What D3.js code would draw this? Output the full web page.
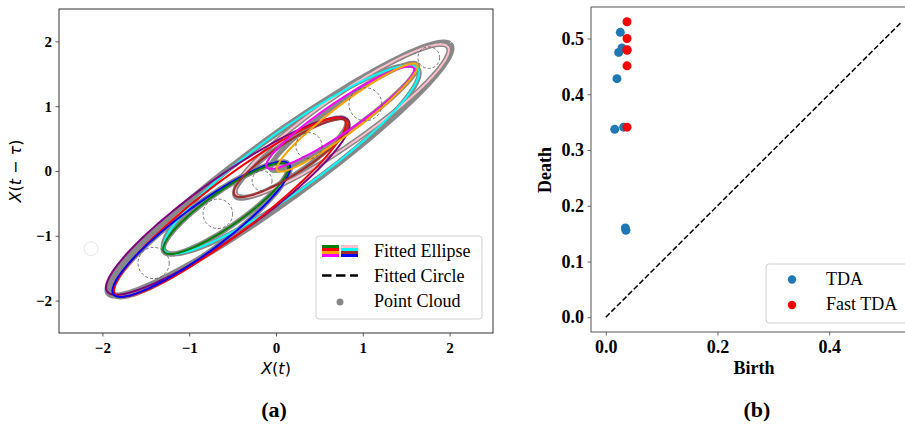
<!DOCTYPE html>
<html>
<head>
<meta charset="utf-8">
<script src="https://cdn.jsdelivr.net/npm/d3@7"></script>
<style>
  body { margin: 0; background: #fff; }
  svg { display: block; }
</style>
</head>
<body>
<div id="chart"></div>
<script>
// ---- data: panel (a) ----
// loops are given by lower tip, upper tip and half width (data units)
var cloudLoops = [
    [-1.92, -1.90, 2.00, 1.96, 0.42],
    [-1.27, -1.25, 1.62, 1.60, 0.42],
    [-1.86, -1.92, 0.14, 0.12, 0.31],
    [-1.28, -1.26, 0.12, 0.10, 0.24],
    [-0.46, -0.40, 0.80, 0.80, 0.22],
    [-0.45, -0.38, 1.97, 1.93, 0.33],
    [-0.05, 0.02, 1.62, 1.65, 0.20]
];
var ellipseNames = ["pink", "cyan", "purple", "red", "blue", "green", "brown", "magenta", "orange"];
var ellipseColors = ["#ffc0cb", "#00ffff", "#800080", "#ff0000", "#0000ff", "#008000", "#a52a2a", "#ff00ff", "#ffa500"];
var ellipseTips = [
    [-0.45, -0.38, 1.97, 1.93],
    [-1.27, -1.25, 1.62, 1.60],
    [-1.93, -1.88, 0.82, 0.80],
    [-1.84, -1.92, 0.78, 0.80],
    [-1.86, -1.92, 0.14, 0.12],
    [-1.28, -1.26, 0.12, 0.10],
    [-0.47, -0.38, 0.82, 0.78],
    [-0.10, 0.05, 1.58, 1.60],
    [0.02, 0.00, 1.62, 1.65]
];
var ellipseWidths = [0.33, 0.41, 0.40, 0.36, 0.31, 0.24, 0.22, 0.21, 0.19];
// fitted circles: x, y, radius
var circleX = [-1.41, -0.67, -0.16, 0.38, 1.03, 1.76];
var circleY = [-1.42, -0.66, -0.15, 0.39, 1.03, 1.75];
var circleR = [0.18, 0.17, 0.115, 0.15, 0.19, 0.125];
var faintCircle = [-2.13, -1.20, 0.08];
var ticksA = [-2, -1, 0, 1, 2];
// legend handle colours (two columns)
var legendLeft = ["#008000", "#ff0000", "#ffa500", "#ff00ff"];
var legendRight = ["#ffc0cb", "#00ffff", "#a52a2a", "#0000ff"];

// ---- data: panel (b) ----
var tdaBirth = [0.026, 0.029, 0.023, 0.020, 0.016, 0.032, 0.035, 0.036];
var tdaDeath = [0.511, 0.483, 0.475, 0.428, 0.337, 0.341, 0.160, 0.156];
var fastBirth = [0.038, 0.038, 0.038, 0.038, 0.038, 0.038];
var fastDeath = [0.530, 0.500, 0.480, 0.479, 0.451, 0.341];
var diagMax = 0.53;
var ticksBx = [0.0, 0.2, 0.4];
var ticksBy = [0.0, 0.1, 0.2, 0.3, 0.4, 0.5];

var serif = "'Liberation Serif', 'Times New Roman', serif";
var mathFont = "'DejaVu Sans', sans-serif";

var svg = d3.select("#chart").append("svg")
    .attr("width", 905)
    .attr("height", 427);

svg.append("rect").attr("width", 905).attr("height", 427).attr("fill", "#fff");

// ================= panel (a) =================
var xA = d3.scaleLinear().domain([-2.5, 2.5]).range([59, 493]);
var yA = d3.scaleLinear().domain([-2.5, 2.5]).range([333, 9]);

// ellipse outline in data space, then through the scales
function ellipsePoints(x1, y1, x2, y2, b) {
    var cx = (x1 + x2) / 2, cy = (y1 + y2) / 2;
    var dx = x2 - x1, dy = y2 - y1;
    var L = Math.sqrt(dx * dx + dy * dy);
    var ux = dx / L, uy = dy / L;
    var a = L / 2;
    return d3.range(0, 361, 3).map(function (deg) {
        var t = deg * Math.PI / 180;
        return [cx + a * Math.cos(t) * ux - b * Math.sin(t) * uy,
                cy + a * Math.cos(t) * uy + b * Math.sin(t) * ux];
    });
}
var lineA = d3.line().x(function (d) { return xA(d[0]); }).y(function (d) { return yA(d[1]); });

var gA = svg.append("g");

// point cloud
gA.selectAll(".cloud").data(cloudLoops).enter().append("path")
    .attr("class", "cloud")
    .attr("d", function (d) { return lineA(ellipsePoints(d[0], d[1], d[2], d[3], d[4])); })
    .attr("fill", "none")
    .attr("stroke", "#888")
    .attr("stroke-width", function (d, i) { return i == 0 ? 6 : 5; });

// fitted ellipses
gA.selectAll(".fit").data(ellipseTips).enter().append("path")
    .attr("class", "fit")
    .attr("d", function (d, i) { return lineA(ellipsePoints(d[0], d[1], d[2], d[3], ellipseWidths[i])); })
    .attr("fill", "none")
    .attr("stroke", function (d, i) { return ellipseColors[i]; })
    .attr("stroke-width", 2);

// fitted circles
gA.selectAll(".circ").data(circleX).enter().append("circle")
    .attr("cx", function (d) { return xA(d); })
    .attr("cy", function (d, i) { return yA(circleY[i]); })
    .attr("r", function (d, i) { return xA(circleR[i]) - xA(0); })
    .attr("fill", "none")
    .attr("stroke", "#555")
    .attr("stroke-width", 0.8)
    .attr("stroke-dasharray", "3,2");

gA.append("circle")
    .attr("cx", xA(faintCircle[0]))
    .attr("cy", yA(faintCircle[1]))
    .attr("r", xA(faintCircle[2]) - xA(0))
    .attr("fill", "none")
    .attr("stroke", "#e6e6e6")
    .attr("stroke-width", 1);

// axes
var axA_x = svg.append("g").attr("transform", "translate(0,333)")
    .call(d3.axisBottom(xA).tickValues(ticksA).tickSize(3.5).tickPadding(5.8).tickFormat(d3.format("d")));
var axA_y = svg.append("g").attr("transform", "translate(59,0)")
    .call(d3.axisLeft(yA).tickValues(ticksA).tickSize(3.5).tickPadding(3.5).tickFormat(d3.format("d")));

[axA_x, axA_y].forEach(function (ax) {
    ax.select(".domain").remove();
    ax.selectAll(".tick line").attr("stroke", "#333").attr("stroke-width", 0.8);
    ax.selectAll("text").attr("font-family", serif).attr("font-weight", "bold")
        .attr("font-size", 15).attr("fill", "#000");
});

svg.append("rect")
    .attr("x", 59).attr("y", 9)
    .attr("width", 434).attr("height", 324)
    .attr("fill", "none").attr("stroke", "#333").attr("stroke-width", 1);

// axis labels
var xl = svg.append("text").attr("x", 276).attr("y", 374)
    .attr("text-anchor", "middle").attr("font-family", mathFont).attr("font-size", 16);
xl.append("tspan").attr("font-style", "italic").text("X");
xl.append("tspan").text("(");
xl.append("tspan").attr("font-style", "italic").text("t");
xl.append("tspan").text(")");

var yl = svg.append("text").attr("transform", "translate(21,171) rotate(-90)")
    .attr("text-anchor", "middle").attr("font-family", mathFont).attr("font-size", 16);
yl.append("tspan").attr("font-style", "italic").text("X");
yl.append("tspan").text("(");
yl.append("tspan").attr("font-style", "italic").text("t");
yl.append("tspan").text(" \u2212 ");
yl.append("tspan").attr("font-style", "italic").text("\u03c4");
yl.append("tspan").text(")");

// legend (a)
var legA = svg.append("g");
legA.append("rect")
    .attr("x", 316).attr("y", 236).attr("width", 166).attr("height", 83).attr("rx", 3)
    .attr("fill", "#fff").attr("fill-opacity", 0.8).attr("stroke", "#d0d0d0");
legA.selectAll(".sl").data(legendLeft).enter().append("rect")
    .attr("x", 322).attr("y", function (d, i) { return 245 + i * 3; })
    .attr("width", 17).attr("height", 3).attr("fill", function (d) { return d; });
legA.selectAll(".sr").data(legendRight).enter().append("rect")
    .attr("x", 341).attr("y", function (d, i) { return 245 + i * 3; })
    .attr("width", 17).attr("height", 3).attr("fill", function (d) { return d; });
legA.append("line")
    .attr("x1", 322).attr("x2", 358).attr("y1", 275.5).attr("y2", 275.5)
    .attr("stroke", "#000").attr("stroke-width", 2.5).attr("stroke-dasharray", "9.5,4.5");
legA.append("circle").attr("cx", 340).attr("cy", 302).attr("r", 3.5).attr("fill", "#888");
legA.selectAll(".lt").data(["Fitted Ellipse", "Fitted Circle", "Point Cloud"]).enter().append("text")
    .attr("x", 374).attr("y", function (d, i) { return 257 + i * 25; })
    .attr("font-family", serif).attr("font-size", 18).attr("fill", "#000")
    .text(function (d) { return d; });

svg.append("text").attr("x", 274).attr("y", 417).attr("text-anchor", "middle")
    .attr("font-family", serif).attr("font-weight", "bold").attr("font-size", 22)
    .text("(a)");

// ================= panel (b) =================
var xB = d3.scaleLinear().domain([-0.0265, 0.5565]).range([591, 916.6]);
var yB = d3.scaleLinear().domain([-0.0265, 0.5565]).range([332, 7]);

var gB = svg.append("g");

gB.append("line")
    .attr("x1", xB(0)).attr("y1", yB(0))
    .attr("x2", xB(diagMax)).attr("y2", yB(diagMax))
    .attr("stroke", "#000").attr("stroke-width", 1.5).attr("stroke-dasharray", "5.5,2.4");

gB.selectAll(".tda").data(tdaBirth).enter().append("circle")
    .attr("cx", function (d) { return xB(d); })
    .attr("cy", function (d, i) { return yB(tdaDeath[i]); })
    .attr("r", 4.5).attr("fill", "#1f77b4");

gB.selectAll(".fast").data(fastBirth).enter().append("circle")
    .attr("cx", function (d) { return xB(d); })
    .attr("cy", function (d, i) { return yB(fastDeath[i]); })
    .attr("r", 4.5).attr("fill", "#ff0000");

var axB_x = svg.append("g").attr("transform", "translate(0,332)")
    .call(d3.axisBottom(xB).tickValues(ticksBx).tickSize(3.5).tickPadding(4.7).tickFormat(d3.format(".1f")));
var axB_y = svg.append("g").attr("transform", "translate(591,0)")
    .call(d3.axisLeft(yB).tickValues(ticksBy).tickSize(3.5).tickPadding(3.5).tickFormat(d3.format(".1f")));

[axB_x, axB_y].forEach(function (ax) {
    ax.select(".domain").remove();
    ax.selectAll(".tick line").attr("stroke", "#444").attr("stroke-width", 0.8);
    ax.selectAll("text").attr("font-family", serif).attr("font-weight", "bold")
        .attr("font-size", 18).attr("fill", "#000");
});

svg.append("rect")
    .attr("x", 591).attr("y", 7)
    .attr("width", 325.6).attr("height", 325)
    .attr("fill", "none").attr("stroke", "#555").attr("stroke-width", 1);

svg.append("text").attr("x", 754).attr("y", 374).attr("text-anchor", "middle")
    .attr("font-family", serif).attr("font-weight", "bold").attr("font-size", 18)
    .text("Birth");
svg.append("text").attr("transform", "translate(551,170) rotate(-90)").attr("text-anchor", "middle")
    .attr("font-family", serif).attr("font-weight", "bold").attr("font-size", 18)
    .text("Death");

// legend (b)
var legB = svg.append("g");
legB.append("rect")
    .attr("x", 766).attr("y", 264).attr("width", 160).attr("height", 59).attr("rx", 3)
    .attr("fill", "#fff").attr("fill-opacity", 0.8).attr("stroke", "#d0d0d0");
legB.selectAll(".ld").data(["#1f77b4", "#ff0000"]).enter().append("circle")
    .attr("cx", 792).attr("cy", function (d, i) { return 279.5 + i * 25.5; })
    .attr("r", 4.2).attr("fill", function (d) { return d; });
legB.selectAll(".lt").data(["TDA", "Fast TDA"]).enter().append("text")
    .attr("x", 826).attr("y", function (d, i) { return 285 + i * 25; })
    .attr("font-family", serif).attr("font-size", 18).attr("fill", "#000")
    .text(function (d) { return d; });

svg.append("text").attr("x", 757).attr("y", 417).attr("text-anchor", "middle")
    .attr("font-family", serif).attr("font-weight", "bold").attr("font-size", 22)
    .text("(b)");
</script>
</body>
</html>
